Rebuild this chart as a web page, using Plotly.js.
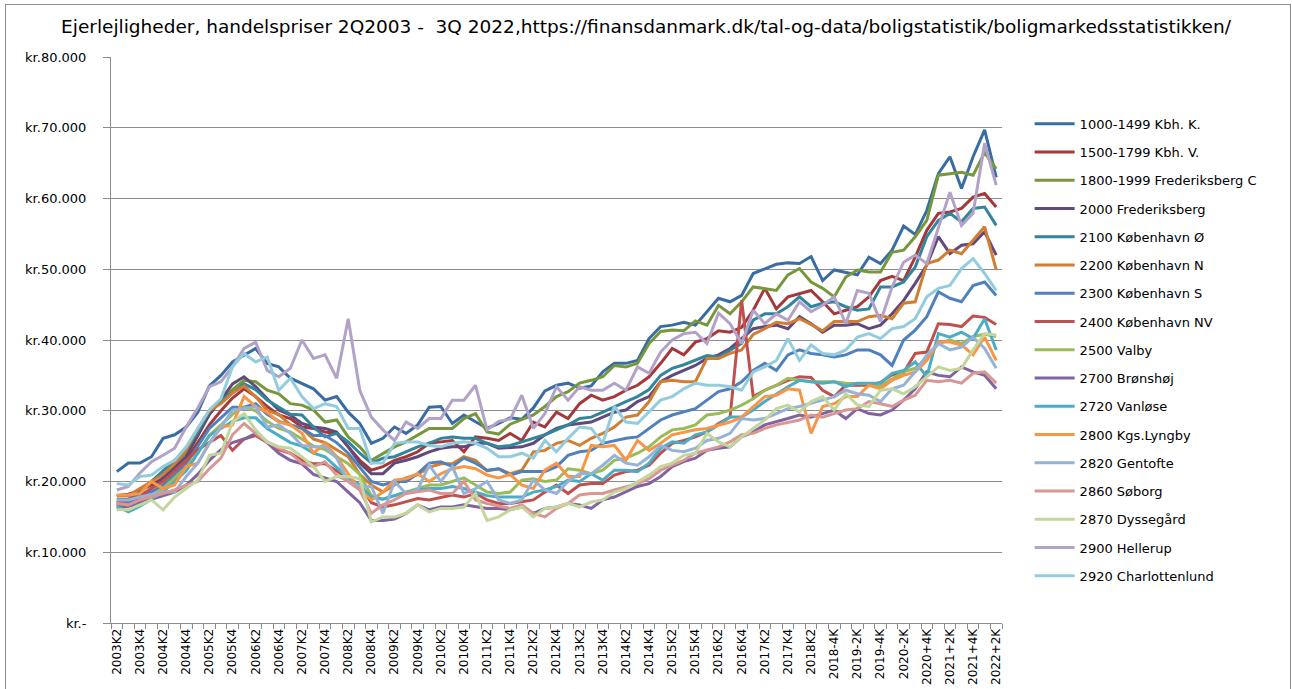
<!DOCTYPE html>
<html>
<head>
<meta charset="utf-8">
<script src="https://cdn.plot.ly/plotly-3.0.1.min.js"></script>
<style>
html,body{margin:0;padding:0;background:#fff;}
#chart{width:1292px;height:689px;}
#frame{position:absolute;left:5px;top:4px;width:1284px;height:700px;border:1px solid #8c8c8c;pointer-events:none;}
</style>
</head>
<body>
<div id="chart"></div>
<div id="frame"></div>
<script>
// Quarters (categories)
const categories = ["2003K2","2003K3","2003K4","2004K1","2004K2","2004K3","2004K4","2005K1","2005K2","2005K3","2005K4","2006K1","2006K2","2006K3","2006K4","2007K1","2007K2","2007K3","2007K4","2008K1","2008K2","2008K3","2008K4","2009K1","2009K2","2009K3","2009K4","2010K1","2010K2","2010K3","2010K4","2011K1","2011K2","2011K3","2011K4","2012K1","2012K2","2012K3","2012K4","2013K1","2013K2","2013K3","2013K4","2014K1","2014K2","2014K3","2014K4","2015K1","2015K2","2015K3","2015K4","2016K1","2016K2","2016K3","2016K4","2017K1","2017K2","2017K3","2017K4","2018K1","2018K2","2018-3K","2018-4K","2019-1K","2019-2K","2019-3K","2019-4K","2020-1K","2020-2K","2020-3K","2020+4K","2021+1K","2021+2K","2021+3K","2021+4K","2022+1K","2022+2K"];

// Labels shown on the x axis
const shownTicks = ["2003K2","2003K4","2004K2","2004K4","2005K2","2005K4","2006K2","2006K4","2007K2","2007K4","2008K2","2008K4","2009K2","2009K4","2010K2","2010K4","2011K2","2011K4","2012K2","2012K4","2013K2","2013K4","2014K2","2014K4","2015K2","2015K4","2016K2","2016K4","2017K2","2017K4","2018K2","2018-4K","2019-2K","2019-4K","2020-2K","2020+4K","2021+2K","2021+4K","2022+2K"];

// Y axis ticks (values in thousand kr)
const yTickVals = [0,10,20,30,40,50,60,70,80];
const yTickText = ["kr.-","kr.10.000","kr.20.000","kr.30.000","kr.40.000","kr.50.000","kr.60.000","kr.70.000","kr.80.000"];

// Series names
const seriesNames = ["1000-1499 Kbh. K.","1500-1799 Kbh. V.","1800-1999 Frederiksberg C","2000 Frederiksberg","2100 København Ø","2200 København N","2300 København S","2400 København NV","2500 Valby","2700 Brønshøj","2720 Vanløse","2800 Kgs.Lyngby","2820 Gentofte","2860 Søborg","2870 Dyssegård","2900 Hellerup","2920 Charlottenlund"];

const seriesColors = ["#386ca5","#a5383a","#77973d","#604a7b","#31859c","#d17d32","#4f81bd","#c0504d","#9bbb59","#8064a2","#4bacc6","#f79646","#95b3d7","#d99694","#c3d69b","#b3a2c7","#93cddd"];

// Prices per m2, thousand kr
const kbhK = [21.4,22.6,22.6,23.5,26.1,26.6,27.7,29.8,33.5,35.0,36.9,37.9,38.8,36.7,36.2,34.6,33.9,33.1,31.5,32.0,29.8,28.2,25.4,26.1,27.7,26.8,28.0,30.5,30.6,28.2,29.4,28.4,27.5,28.2,29.0,28.8,30.4,32.8,33.6,33.9,33.2,33.5,35.5,36.7,36.7,37.1,40.2,41.9,42.1,42.5,42.1,44.0,45.9,45.4,46.3,49.4,50.1,50.7,50.9,50.8,51.8,48.4,49.9,49.6,49.2,51.7,50.8,52.7,56.1,54.9,58.3,63.5,65.9,61.4,65.9,69.7,63.0];
const kbhV = [18.0,18.2,18.7,19.5,20.5,21.8,23.0,25.5,28.0,30.0,31.8,33.1,32.0,30.6,29.4,28.9,27.7,27.5,27.0,26.8,24.9,23.0,21.6,22.1,23.0,23.5,24.2,25.4,25.6,25.8,24.2,26.3,26.1,25.8,26.8,25.8,28.4,27.7,29.8,28.9,31.0,32.2,31.5,32.0,32.9,33.6,34.8,36.7,38.8,37.9,39.7,40.2,41.3,41.1,41.8,44.2,47.3,44.4,46.1,46.6,47.0,45.4,43.7,44.2,44.7,46.1,48.4,49.0,48.4,51.7,55.5,57.9,58.1,58.6,60.2,60.7,58.8];
const frbC = [16.8,17.3,18.5,20.0,21.3,22.5,24.0,26.5,29.5,31.5,33.0,34.3,34.1,32.9,32.4,31.0,30.8,30.1,28.4,28.7,26.3,24.9,23.0,24.0,24.9,25.6,26.6,27.5,27.5,27.5,28.9,29.6,27.0,26.7,28.1,28.8,29.4,30.6,32.0,32.7,33.9,34.3,34.8,36.4,36.2,36.7,39.5,41.2,41.4,41.3,42.7,42.1,44.9,43.7,45.4,47.5,47.3,47.0,49.2,50.1,48.2,47.3,46.1,48.9,49.9,49.6,49.6,52.4,52.7,54.6,56.9,63.3,63.5,63.7,63.3,66.5,64.2];
const frb = [16.5,17.0,17.8,19.0,20.5,22.0,23.5,26.5,29.5,31.5,33.8,34.8,33.4,31.7,30.1,29.4,28.2,27.7,27.5,27.0,24.9,22.6,21.1,21.1,22.6,23.0,23.5,24.2,24.7,24.9,24.9,25.4,25.4,24.7,24.8,24.9,25.4,26.6,27.5,28.0,28.2,28.4,29.1,29.8,30.1,31.3,32.0,34.1,35.0,35.7,36.4,37.4,37.9,38.8,40.2,41.6,41.9,42.1,41.6,43.3,42.3,41.1,42.1,42.1,42.3,41.6,42.1,43.7,45.6,48.0,50.6,54.6,52.2,53.4,53.6,55.3,52.0];
const kbhO = [17.5,17.5,18.5,20.0,21.5,23.0,24.5,27.0,30.0,31.5,32.5,33.8,33.0,31.5,30.5,29.5,29.4,27.7,26.3,26.8,25.6,24.0,22.6,23.3,23.5,24.2,24.9,25.4,26.1,26.3,26.1,26.1,25.4,24.9,25.1,25.6,26.1,26.6,27.3,28.0,28.9,29.1,29.8,30.6,31.3,32.0,33.0,35.0,36.0,36.5,37.2,37.8,37.6,38.6,39.5,42.8,43.7,43.7,44.7,46.1,44.7,45.2,45.4,44.7,44.2,44.4,47.5,47.5,48.2,50.3,54.6,56.9,57.9,56.7,58.6,58.8,56.2];
const kbhN = [18.0,18.0,19.0,20.0,21.0,22.5,24.5,27.5,30.0,31.0,32.5,33.5,32.0,30.0,29.5,28.0,27.5,26.0,25.5,24.5,23.5,21.0,19.5,18.5,19.5,20.5,21.0,22.0,22.5,22.5,23.5,23.0,21.5,21.8,21.1,21.6,24.2,24.4,25.4,25.8,25.1,26.1,26.8,27.7,29.1,29.4,31.3,34.1,34.3,34.1,34.1,37.4,37.4,38.1,38.6,40.8,41.6,42.5,42.3,43.0,42.2,41.3,42.6,42.6,42.6,43.3,43.5,43.0,45.2,45.4,50.8,51.3,52.7,52.2,54.1,56.0,49.9];
const kbhS = [17.0,17.0,18.0,18.5,19.5,21.0,22.5,25.0,27.5,29.0,30.5,30.5,31.0,29.5,28.5,28.0,27.5,26.5,26.5,25.5,24.0,22.0,20.0,19.5,20.0,20.0,21.1,22.6,22.8,22.1,23.3,22.6,21.6,21.8,20.9,21.4,21.4,21.4,22.1,23.7,24.2,24.4,25.4,25.8,26.1,26.3,27.5,28.7,29.4,29.8,30.3,31.5,32.7,33.1,34.1,35.7,36.7,35.7,37.9,38.6,38.1,37.9,37.6,37.9,38.6,38.6,37.9,36.4,40.0,41.4,43.3,46.8,45.9,45.4,47.7,48.2,46.3];
const kbhNV = [17.0,17.5,18.0,19.0,20.0,21.5,23.0,24.5,25.5,26.5,24.4,26.0,26.5,25.5,24.5,24.0,23.0,22.5,22.5,21.5,20.5,19.5,17.0,16.4,16.7,17.1,17.6,17.4,17.8,18.1,17.8,18.3,17.4,16.9,16.9,17.1,17.4,18.5,19.5,18.3,19.5,19.7,19.7,20.9,21.4,21.6,22.3,24.0,25.4,25.8,26.3,27.0,28.2,29.1,45.6,32.0,32.9,33.6,34.3,34.8,34.7,32.9,32.0,33.6,33.6,33.6,34.0,35.1,35.4,38.1,38.3,42.3,42.2,41.9,43.4,43.2,42.2];
const valby = [16.0,16.5,17.0,18.0,19.0,20.5,22.0,24.0,26.5,28.0,29.5,30.5,30.0,28.5,27.5,27.0,26.0,25.0,24.5,23.5,22.5,21.0,18.0,17.5,18.0,18.5,19.0,19.5,19.5,20.0,20.5,19.5,18.5,18.3,18.5,20.2,20.4,20.0,20.2,21.8,21.6,21.1,21.6,23.0,23.3,24.0,24.9,26.3,27.3,27.5,28.0,29.4,29.6,30.1,30.8,31.7,32.9,33.6,34.6,34.3,34.1,34.1,34.1,33.9,33.8,33.8,33.5,34.5,35.5,36.0,37.5,39.5,40.0,39.5,40.5,40.8,40.5];
const bronshoj = [16.4,16.5,17.0,17.5,18.0,18.5,19.5,21.0,23.0,24.5,25.5,26.0,26.8,25.5,24.0,23.0,22.5,21.0,20.5,20.0,18.5,17.0,14.5,14.5,14.7,15.5,16.7,16.0,16.4,16.4,16.7,16.4,16.2,16.2,16.0,16.4,15.5,16.2,16.4,16.9,16.7,16.2,17.4,17.8,18.5,19.3,19.7,20.7,22.1,22.8,23.3,24.4,24.7,24.9,26.3,27.0,28.0,28.4,28.9,29.4,29.1,29.6,30.1,28.9,30.3,29.6,29.4,30.1,31.5,33.1,35.5,35.0,34.8,36.2,35.5,35.0,33.1];
const vanlose = [16.5,15.7,16.5,17.5,18.5,20.0,21.5,24.0,26.5,27.5,28.5,29.0,29.0,27.5,26.5,25.5,25.0,24.0,23.5,22.0,20.5,19.5,17.8,17.5,18.0,18.5,18.8,19.0,19.0,19.3,19.0,18.5,18.0,17.8,17.8,17.8,18.5,18.8,19.3,20.2,20.0,21.1,20.2,21.6,21.6,21.4,22.6,24.7,25.6,25.4,26.6,27.0,28.0,29.1,29.1,30.1,31.3,32.4,33.4,34.3,34.1,33.9,34.1,33.4,33.9,33.9,33.9,35.3,35.7,36.9,34.8,40.9,40.4,41.1,40.2,43.0,38.6];
const lyngby = [18.1,18.1,18.3,20.0,19.0,19.5,22.1,22.6,25.4,27.7,28.0,32.0,30.6,29.8,28.4,28.0,26.8,24.0,25.4,23.5,21.1,18.8,17.4,18.5,20.2,20.4,21.1,20.0,21.1,21.8,22.1,21.8,20.9,20.5,21.0,19.5,19.0,21.6,22.6,20.7,20.7,25.1,24.9,25.1,23.0,25.8,24.4,25.4,26.6,27.0,27.3,27.5,28.0,28.4,29.1,30.6,32.0,32.2,33.1,32.9,26.8,30.6,31.0,32.0,32.0,33.6,33.1,34.3,35.0,35.5,37.1,39.7,39.7,39.3,37.9,40.4,37.1];
const gentofte = [17.4,17.4,17.8,18.1,18.5,18.5,20.7,22.6,25.4,27.7,30.1,30.3,30.6,27.7,28.0,26.8,25.1,24.9,24.9,23.3,20.0,19.3,19.3,15.5,20.0,18.3,18.8,22.3,20.0,22.1,18.3,19.0,20.0,17.4,16.9,17.4,20.2,18.8,18.3,20.0,21.1,21.1,22.3,23.7,22.6,22.3,23.5,25.1,24.4,24.2,24.7,25.8,26.1,26.8,28.9,28.7,28.9,29.6,30.3,30.6,31.0,31.5,32.0,32.9,32.4,32.2,31.3,33.1,33.6,35.5,37.9,39.5,38.6,39.0,40.4,38.8,36.0];
const soborg = [16.9,16.7,17.4,17.8,18.3,18.8,19.5,20.0,21.8,23.3,26.6,28.2,26.8,25.6,24.7,24.0,22.6,22.1,22.8,20.9,20.0,18.8,15.5,16.7,17.4,18.3,18.5,18.8,18.3,18.3,20.0,17.4,16.9,16.6,16.2,16.7,15.5,15.0,16.2,16.9,18.1,18.3,18.3,18.8,19.3,19.7,20.4,21.6,22.3,23.0,24.0,24.4,24.9,25.6,26.6,26.8,27.5,28.0,28.4,28.7,29.4,29.1,29.6,30.1,30.3,31.3,31.0,30.6,31.5,32.2,34.3,34.1,34.3,33.9,35.3,35.5,33.9];
const dyssegard = [16.0,16.0,16.7,17.4,16.0,17.8,19.0,20.2,23.7,24.0,28.4,29.6,27.3,25.6,24.9,24.7,23.5,22.1,20.0,20.7,20.7,20.4,14.3,15.0,15.0,15.5,16.7,15.7,16.2,16.2,16.4,18.3,14.5,15.0,16.0,16.4,15.0,16.2,16.4,16.9,16.4,17.1,17.4,18.5,19.0,20.0,20.9,22.1,22.6,23.7,24.0,26.8,25.6,24.9,26.3,27.5,28.7,30.3,30.8,29.8,31.3,32.0,30.1,32.4,30.8,30.6,32.9,33.1,32.4,33.4,34.8,36.2,35.7,36.0,38.6,40.9,40.7];
const hellerup = [18.8,19.3,21.2,22.8,23.7,24.7,27.7,30.4,33.4,34.1,36.2,38.8,39.7,35.7,34.8,36.0,40.0,37.4,37.9,34.6,43.0,32.9,29.1,27.3,25.8,28.4,27.5,28.9,28.9,31.5,31.5,33.6,27.3,28.5,28.8,32.2,27.5,29.6,33.4,31.5,33.4,32.9,32.9,33.9,32.9,36.2,35.3,38.3,40.0,40.9,41.1,39.5,43.8,42.3,39.5,44.2,42.3,43.7,42.8,45.4,44.0,44.9,46.1,42.3,47.0,46.6,42.6,47.5,51.0,52.0,50.8,56.0,60.9,56.2,57.9,67.8,61.9];
const charlottenlund = [19.7,19.5,20.7,20.9,22.1,23.0,24.9,27.5,30.1,31.7,36.2,38.1,36.9,37.6,32.9,34.6,32.0,30.3,31.0,30.6,27.5,27.5,22.6,22.6,25.4,25.6,25.6,25.1,24.9,25.4,25.6,25.4,24.7,23.5,23.5,24.0,23.3,25.8,24.2,26.1,27.7,27.5,25.4,30.6,28.4,28.2,29.8,31.5,32.0,33.1,33.9,33.6,33.6,33.4,32.9,35.5,36.2,37.1,40.2,37.1,39.3,38.1,37.9,38.6,40.4,40.9,40.2,41.6,41.9,43.0,46.1,47.3,47.7,50.1,51.5,49.4,47.0];

const seriesValues = [kbhK,kbhV,frbC,frb,kbhO,kbhN,kbhS,kbhNV,valby,bronshoj,vanlose,lyngby,gentofte,soborg,dyssegard,hellerup,charlottenlund];

const traces = seriesNames.map((name, k) => ({
  type: 'scatter',
  mode: 'lines',
  name: name,
  legendgroup: 'g' + k,
  x: categories,
  y: seriesValues[k],
  line: {color: seriesColors[k], width: 3},
  hovertemplate: '%{x}: %{y:.1f} t.kr.<extra>' + name + '</extra>'
}));

const tickText = categories.map(c => shownTicks.includes(c) ? c : '');

const layout = {
  width: 1292,
  height: 689,
  margin: {l: 111, r: 290, t: 57, b: 66},
  paper_bgcolor: '#ffffff',
  plot_bgcolor: '#ffffff',
  font: {family: 'DejaVu Sans, Verdana, sans-serif', size: 13, color: '#000'},
  title: {
    text: 'Ejerlejligheder, handelspriser 2Q2003 -  3Q 2022,https://finansdanmark.dk/tal-og-data/boligstatistik/boligmarkedsstatistikken/',
    x: 0.5, xref: 'container', xanchor: 'center',
    y: 1 - 27/689, yref: 'container', yanchor: 'middle',
    font: {family: 'DejaVu Sans, Verdana, sans-serif', size: 18.5, color: '#000'}
  },
  showlegend: true,
  legend: {
    x: 1.031, xanchor: 'left',
    y: 0.9085, yanchor: 'top',
    tracegroupgap: 8.35,
    font: {family: 'DejaVu Sans, Verdana, sans-serif', size: 13, color: '#000'},
    bgcolor: 'rgba(0,0,0,0)',
    itemwidth: 40
  },
  xaxis: {
    type: 'category',
    categoryorder: 'array',
    categoryarray: categories,
    range: [-0.5, categories.length - 0.5],
    tickmode: 'array',
    tickvals: categories,
    ticktext: tickText,
    tickson: 'boundaries',
    tickangle: -90,
    ticks: 'outside',
    ticklen: 5,
    tickcolor: '#8c8c8c',
    tickfont: {family: 'DejaVu Sans, Verdana, sans-serif', size: 12, color: '#000'},
    showgrid: false,
    zeroline: false,
    showline: true,
    linecolor: '#8c8c8c',
    linewidth: 1,
    fixedrange: true
  },
  yaxis: {
    range: [0, 80],
    tickmode: 'array',
    tickvals: yTickVals,
    ticktext: yTickText,
    ticks: 'outside',
    ticklen: 7,
    tickcolor: '#8c8c8c',
    ticklabelstandoff: 14,
    tickfont: {family: 'DejaVu Sans, Verdana, sans-serif', size: 13, color: '#000'},
    showgrid: true,
    gridcolor: '#8c8c8c',
    gridwidth: 1,
    zeroline: false,
    showline: true,
    linecolor: '#8c8c8c',
    linewidth: 1,
    fixedrange: true
  }
};

Plotly.newPlot('chart', traces, layout, {displayModeBar: false, staticPlot: false});
</script>
</body>
</html>
